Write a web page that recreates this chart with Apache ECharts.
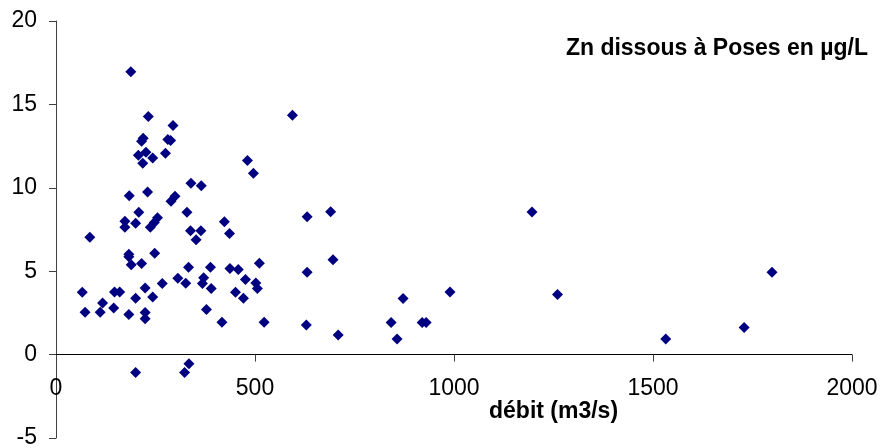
<!DOCTYPE html>
<html>
<head>
<meta charset="utf-8">
<script src="https://cdn.jsdelivr.net/npm/echarts@6/dist/echarts.min.js"></script>
<style>
html,body{margin:0;padding:0;background:#fff;}
#chart{width:880px;height:448px;}
</style>
</head>
<body>
<div id="chart"></div>
<script>
// débit (m3/s)
const debit = [188,232,594,294,219,215,281,288,207,226,243,218,275,481,496,339,365,184,230,289,299,
  208,329,690,1196,631,173,173,200,237,247,255,423,436,338,364,352,85,
  183,183,189,215,248,333,388,437,458,511,631,696,1799,
  306,326,371,368,390,476,502,506,451,471,267,224,243,200,66,147,160,117,145,73,111,183,224,224,378,872,990,1260,
  417,523,629,709,842,857,920,930,1532,1729,
  200,323,334];
// Zn dissous (µg/L)
const zinc = [16.95,14.27,14.35,13.73,12.97,12.79,12.89,12.83,11.95,12.13,11.79,11.47,12.07,11.63,10.87,10.28,10.13,9.53,9.75,9.19,9.49,
  8.54,8.54,8.56,8.55,8.26,7.99,7.63,7.88,7.63,7.92,8.2,7.96,7.26,7.43,7.43,6.89,7.03,
  6.02,5.86,5.38,5.46,6.08,5.24,5.23,5.16,5.1,5.47,4.94,5.68,4.93,
  4.57,4.28,4.6,4.27,3.96,4.5,4.3,3.96,3.74,3.38,4.26,4.0,3.46,3.38,3.74,3.75,3.75,3.1,2.79,2.54,2.54,2.41,2.53,2.15,2.7,3.37,3.75,3.6,
  1.94,1.94,1.77,1.18,1.93,0.94,1.93,1.93,0.94,1.62,
  -1.07,-1.07,-0.55];
const titleText = 'Zn dissous à Poses en µg/L';
const xName = 'débit (m3/s)';
const yMin = -5, yMax = 20;

const points = debit.map((d, i) => [d, zinc[i]]);
const FONT = "'Liberation Sans', Arial, sans-serif";
const gridTop = 21, gridBottom = 10, H = 448;
const gridH = H - gridTop - gridBottom;
// shift the x axis up so that it crosses the y axis at 0
const zeroOffset = -gridH * (0 - yMin) / (yMax - yMin);

const chart = echarts.init(document.getElementById('chart'), null, {renderer: 'canvas'});
chart.setOption({
  animation: false,
  backgroundColor: '#ffffff',
  title: {
    text: titleText,
    right: 12,
    top: 37,
    padding: 0,
    textStyle: {fontFamily: FONT, fontSize: 23, fontWeight: 'bold', color: '#000'}
  },
  grid: {left: 56, right: 28, top: gridTop, bottom: gridBottom, containLabel: false, outerBoundsMode: 'none'},
  xAxis: {
    type: 'value',
    min: 0, max: 2000, interval: 500,
    offset: zeroOffset,
    axisLine: {show: true, onZero: false, lineStyle: {color: '#000', width: 1}},
    axisTick: {show: true, inside: false, length: 7, lineStyle: {color: '#404040'}},
    axisLabel: {fontFamily: FONT, fontSize: 23, color: '#000', margin: 23, formatter: v => String(v)},
    splitLine: {show: false}
  },
  yAxis: {
    type: 'value',
    min: yMin, max: yMax, interval: 5,
    axisLine: {show: true, onZero: false, lineStyle: {color: '#404040', width: 1}},
    axisTick: {show: true, inside: false, length: 7, lineStyle: {color: '#404040'}},
    axisLabel: {fontFamily: FONT, fontSize: 23, color: '#000', margin: 19, formatter: v => String(v)},
    splitLine: {show: false}
  },
  graphic: [{
    type: 'text',
    left: 489,
    top: 400,
    style: {text: xName, font: "bold 23px 'Liberation Sans', Arial, sans-serif", fill: '#000'}
  }],
  series: [{
    type: 'scatter',
    symbol: 'diamond',
    symbolSize: 11,
    itemStyle: {color: '#000080', opacity: 1},
    data: points
  }]
});
</script>
</body>
</html>
